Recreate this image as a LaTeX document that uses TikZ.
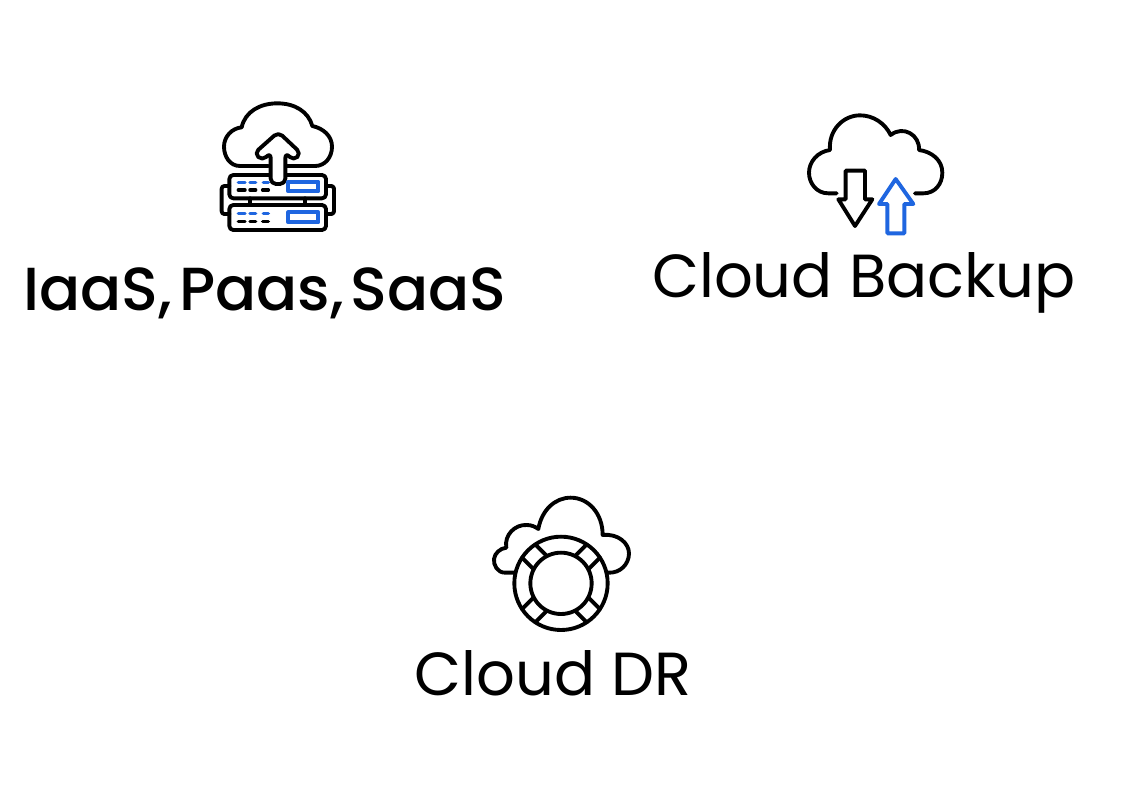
\documentclass[tikz,border=0pt]{standalone}
\usepackage{fontspec}
\setmainfont{Poppins}
\newfontfamily\medfont{Poppins Medium}
\definecolor{iconblue}{HTML}{1F66E0}
\tikzset{
  ink/.style={draw=black,line width=2.9pt,line join=round,line cap=round},
  bluink/.style={draw=iconblue,line width=2.9pt,line join=round,line cap=round},
  dashink/.style={line width=2.6pt,line cap=round},
  label/.style={inner sep=0pt,anchor=base,font=\fontsize{45.6}{50}\selectfont},
  zoomed/.style={x=0.25pt,y=-0.25pt}
}
\begin{document}
\begin{tikzpicture}[x=0.75pt,y=-0.75pt]
\useasboundingbox (0,0) rectangle (1125,811);
\fill[white] (0,0) rectangle (1125,811);
% IaaS icon
\begin{scope}[shift={(200,90)},zoomed]
\draw[ink] (205,228) -- (120,228) .. controls (90,228) and (72,200) .. (72,170) .. controls (72,140) and (95,115) .. (125,112)
  .. controls (135,65) and (180,40) .. (232,40) .. controls (285,40) and (325,65) .. (337,108)
  .. controls (370,115) and (396,138) .. (396,170) .. controls (396,202) and (375,228) .. (345,228) -- (262,228);
\draw[ink,rounded corners=3pt] (88,255) rectangle (378,325);
\draw[ink,rounded corners=3pt] (88,345) rectangle (378,420);
\draw[ink] (150,325) -- (150,345) (315,325) -- (315,345);
\draw[ink,rounded corners=2pt] (88,288) -- (65,288) -- (65,372) -- (88,372);
\draw[ink,rounded corners=2pt] (378,288) -- (402,288) -- (402,372) -- (378,372);
\draw[ink,fill=white,rounded corners=4pt] (235,126) -- (303,190) -- (281,212) -- (256,188) -- (256,282) -- (212,282) -- (212,188) -- (187,212) -- (163,190) -- cycle;
\draw[bluink] (265,275) rectangle (355,304);
\draw[bluink] (265,367) rectangle (355,397);
\foreach \yy in {277,370}{
  \draw[dashink,iconblue] (115,\yy) -- (135,\yy) (150,\yy) -- (167,\yy) (190,\yy) -- (205,\yy);}
\foreach \yy in {300,395}{
  \draw[dashink,black] (115,\yy) -- (135,\yy) (150,\yy) -- (167,\yy) (188,\yy) -- (205,\yy);}
\end{scope}
% Backup icon
\begin{scope}[shift={(795,100)},zoomed]
\draw[ink] (125,280) -- (100,280) .. controls (65,280) and (42,250) .. (42,218) .. controls (42,185) and (68,155) .. (105,150)
  .. controls (100,90) and (145,46) .. (195,46) .. controls (235,46) and (270,70) .. (287,105)
  .. controls (325,75) and (375,105) .. (372,150) .. controls (410,155) and (442,180) .. (442,218)
  .. controls (442,252) and (420,280) .. (385,280) -- (360,280);
\draw[ink] (152,212) -- (210,212) -- (210,298) -- (232,298) -- (180,378) -- (130,298) -- (152,298) -- cycle;
\draw[bluink] (302,237) -- (355,312) -- (328,312) -- (328,400) -- (277,400) -- (277,312) -- (252,312) -- cycle;
\end{scope}
% DR icon
\begin{scope}[shift={(480,485)},zoomed]
\draw[ink] (105,263) -- (75,263) .. controls (52,263) and (40,240) .. (42,222) .. controls (44,205) and (60,190) .. (79,188)
  .. controls (72,150) and (105,118) .. (140,120) .. controls (155,120) and (165,125) .. (175,132)
  .. controls (185,75) and (225,38) .. (272,38) .. controls (325,38) and (368,85) .. (368,150)
  .. controls (415,145) and (447,175) .. (447,205) .. controls (447,238) and (420,265) .. (385,263);
\draw[ink] (243,295) circle[radius=140];
\draw[ink] (243,295) circle[radius=92];
\foreach \aa in {45,135,225,315}{
  \begin{scope}[shift={(243,295)},rotate=\aa]
    \draw[ink] (88,28) -- (137,28) (88,-28) -- (137,-28);
  \end{scope}}
\end{scope}
% Labels
\node[label,font=\fontsize{45.6}{50}\medfont] (iaas) at (265,310.5) {IaaS,\kern5.2pt Paas,\kern5.2pt SaaS};
\node[label] (backup) at (864,297.5) {Cloud Backup};
\node[label] (dr) at (553,695.5) {Cloud DR};
\end{tikzpicture}
\end{document}
